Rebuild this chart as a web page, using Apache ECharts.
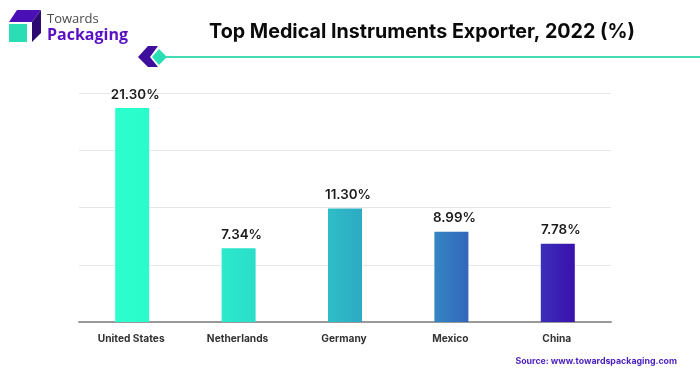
<!DOCTYPE html>
<html>
<head>
<meta charset="utf-8">
<style>
  html, body { margin: 0; padding: 0; background: #fff; }
  #main { width: 700px; height: 376px; }
</style>
<script src="https://cdn.jsdelivr.net/npm/echarts@6/dist/echarts.min.js"></script>
</head>
<body>
<div id="main"></div>
<script>
const categories = ['United States', 'Netherlands', 'Germany', 'Mexico', 'China'];
const shares = [21.3, 7.34, 11.3, 8.99, 7.78];
const shareLabels = ['21.30%', '7.34%', '11.30%', '8.99%', '7.78%'];
const barColors = [
  ['#2BFFCC', '#2BFBCB'],
  ['#2CEACB', '#2BDDCB'],
  ['#2EBEC6', '#2DA9C4'],
  ['#3386C3', '#3466BB'],
  ['#3B2FB9', '#3A10AD']
];

const myChart = echarts.init(document.getElementById('main'));

function poly(points, fill) {
  return { type: 'polygon', shape: { points }, style: { fill } };
}

myChart.setOption({
  animation: false,
  title: {
    text: 'Top Medical Instruments Exporter, 2022 (%)',
    left: 417,
    top: 17,
    textAlign: 'center',
    textStyle: { fontFamily: 'Inter', fontWeight: 700, fontSize: 19.7, color: '#0a0a0a' }
  },
  grid: { top: 93, left: 79, right: 89, bottom: 54 },
  xAxis: {
    type: 'category',
    data: categories,
    axisLine: { lineStyle: { color: '#999', width: 2 } },
    axisTick: { show: false },
    axisLabel: {
      color: '#333',
      fontFamily: 'Inter',
      fontWeight: 700,
      fontSize: 10.2,
      margin: 12,
      padding: [0, 2, 0, 0]
    }
  },
  yAxis: {
    type: 'value',
    min: 0,
    max: 22.8,
    interval: 5.7,
    axisLine: { show: false },
    axisTick: { show: false },
    axisLabel: { show: false },
    splitLine: { lineStyle: { color: '#e6e6e6', width: 1 } }
  },
  series: [
    {
      type: 'bar',
      barWidth: 34,
      data: shares.map((v, i) => ({
        value: v,
        itemStyle: {
          color: new echarts.graphic.LinearGradient(0, 0, 1, 0, [
            { offset: 0, color: barColors[i][0] },
            { offset: 1, color: barColors[i][1] }
          ])
        }
      })),
      label: {
        show: true,
        position: 'top',
        distance: 7,
        offset: [3, 0],
        color: '#1a1a1a',
        fontFamily: 'Inter',
        fontWeight: 600,
        fontSize: 13.4,
        formatter: (p) => shareLabels[p.dataIndex]
      }
    }
  ],
  graphic: [
    poly([[9, 22], [17, 10], [41, 10], [32, 22]], '#4B10B5'),
    poly([[32, 22], [41, 10], [41, 33], [32, 42]], '#2C0A72'),
    { type: 'rect', shape: { x: 9, y: 24, width: 18, height: 18 }, style: { fill: '#2BDDB5' } },
    { type: 'text', left: 47, top: 13, style: { text: 'Towards', fill: '#4a4a4a', font: '500 13px "Open Sans"' } },
    { type: 'text', left: 47, top: 27, style: { text: 'Packaging', fill: '#5A10C0', font: '700 16px "Open Sans"' } },
    poly([[138, 57], [148, 46], [158, 46], [150, 57], [158, 67], [148, 67]], '#3E0E9C'),
    poly([[159, 49], [167, 57], [159, 65], [152, 57]], '#2BDDB5'),
    { type: 'rect', shape: { x: 166, y: 56, width: 534, height: 2 }, style: { fill: '#45D9B5' } },
    { type: 'text', right: 23, top: 357, style: { text: 'Source: www.towardspackaging.com', fill: '#4A1FC0', font: '700 8.8px "Inter"' } }
  ]
});
</script>
</body>
</html>
